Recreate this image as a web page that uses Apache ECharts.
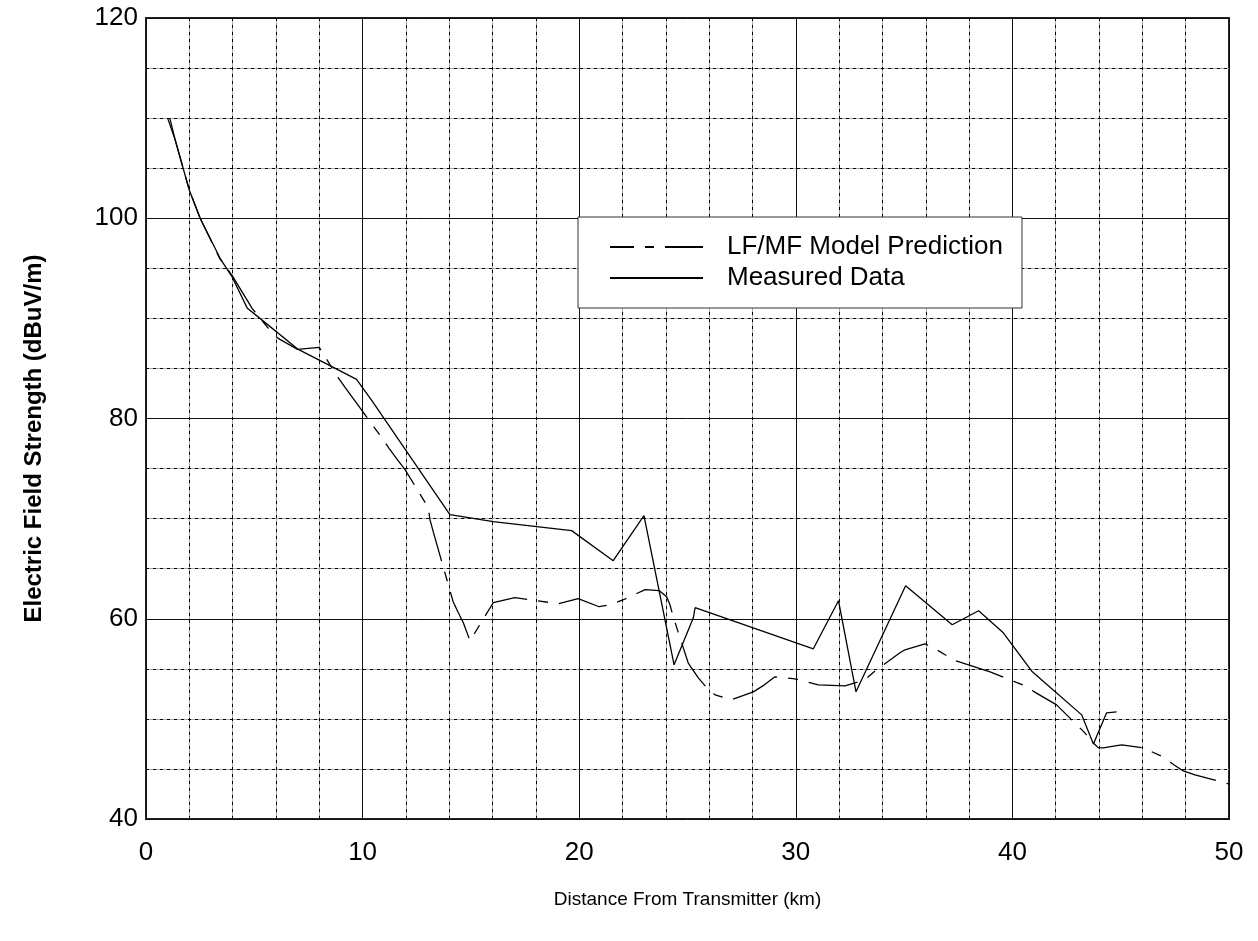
<!DOCTYPE html>
<html>
<head>
<meta charset="utf-8">
<script src="https://cdn.jsdelivr.net/npm/echarts@6/dist/echarts.min.js"></script>
<style>
  html, body { margin: 0; padding: 0; background: #fff; }
  #chart { width: 1258px; height: 941px; }
</style>
</head>
<body>
<div id="chart"></div>
<script>
// LF/MF model prediction (dash-dot)
const predDist = [1.1, 1.35, 2.0, 2.5, 3.4, 4.0, 4.9, 5.2, 5.65, 6.1, 7.0, 8.0, 8.26, 8.83, 9.19,
  10.0, 10.88, 11.23, 11.57, 11.96, 13.03, 13.11, 13.26, 14.18, 14.42, 14.65, 14.96, 16.03,
  17.03, 17.73, 19.04, 19.95, 20.92, 21.42, 22.04, 23.04, 23.7, 24.04, 24.19, 24.34, 25.03,
  25.15, 25.5, 25.85, 26.27, 27.01, 28.04, 28.55, 29.04, 29.47, 29.96, 31.04, 32.27, 32.73,
  33.19, 33.66, 34.81, 35.04, 35.96, 36.43, 36.89, 37.4, 38.97, 39.66, 40.12, 40.58, 41.09,
  42.04, 43.3, 43.74, 43.97, 44.2, 44.74, 45.05, 46.04, 46.96, 47.47, 47.89, 48.43, 50.0];
const predValue = [110.0, 107.8, 102.8, 100.0, 96.0, 94.2, 91.0, 90.2, 89.0, 88.0, 86.9, 87.1, 86.2, 84.2, 83.1,
  80.7, 78.1, 77.0, 76.0, 74.9, 71.1, 69.9, 68.7, 61.7, 60.6, 59.6, 57.8, 61.6,
  62.1, 61.9, 61.5, 62.0, 61.2, 61.4, 61.9, 62.9, 62.8, 62.2, 61.4, 60.2, 55.6,
  55.2, 54.1, 53.2, 52.4, 51.9, 52.7, 53.4, 54.2, 54.1, 54.0, 53.4, 53.3, 53.6,
  53.9, 54.8, 56.6, 56.9, 57.5, 57.0, 56.4, 55.8, 54.7, 54.1, 53.7, 53.3, 52.6,
  51.4, 48.7, 47.6, 47.1, 47.1, 47.3, 47.4, 47.1, 46.2, 45.4, 44.8, 44.4, 43.5];

// Measured data (solid)
const measDist = [1.0, 1.35, 2.0, 2.5, 3.42, 3.96, 4.68, 5.26, 7.03, 8.65, 9.72, 10.42, 14.03,
  16.03, 19.65, 21.57, 22.99, 24.38, 25.27, 25.35, 30.81, 31.97, 32.78, 35.07, 37.22, 38.44,
  39.58, 40.92, 43.2, 43.74, 44.35, 44.81];
const measValue = [110.0, 107.8, 102.8, 100.0, 96.0, 94.2, 91.0, 90.0, 86.9, 85.1, 83.9, 81.8, 70.4,
  69.7, 68.8, 65.8, 70.3, 55.4, 60.1, 61.1, 57.0, 61.8, 52.7, 63.3, 59.4, 60.8,
  58.6, 54.7, 50.4, 47.5, 50.6, 50.7];

const xTitle = 'Distance From Transmitter (km)';
const yTitle = 'Electric Field Strength (dBuV/m)';
const seriesNames = ['LF/MF Model Prediction', 'Measured Data'];

const FONT = 'Arial, "Liberation Sans", Helvetica, sans-serif';
const pairs = (xs, ys) => xs.map((x, i) => [x, ys[i]]);

const chart = echarts.init(document.getElementById('chart'), null, { renderer: 'canvas' });

const option = {
  backgroundColor: '#fff',
  animation: false,
  grid: {
    left: 146, top: 18, right: 29, bottom: 122,
    show: true, borderColor: '#222', borderWidth: 2, backgroundColor: 'transparent'
  },
  legend: {
    orient: 'vertical',
    left: 578, top: 217,
    backgroundColor: '#fff',
    borderColor: '#333', borderWidth: 1,
    padding: [17, 19, 17, 31],
    itemWidth: 93, itemHeight: 14, itemGap: 5,
    itemStyle: { opacity: 0 },
    textStyle: { fontFamily: FONT, fontSize: 26, color: '#000', padding: [0, 0, 0, 19] },
    data: [
      { name: seriesNames[0], lineStyle: { type: [24, 11, 9, 11, 38, 1] } },
      { name: seriesNames[1] }
    ]
  },
  xAxis: [
    {
      type: 'value', min: 0, max: 50, interval: 10, z: 1,
      name: xTitle, nameLocation: 'middle', nameGap: 71,
      nameTextStyle: { fontFamily: FONT, fontSize: 19, color: '#000' },
      axisLine: { show: false },
      axisTick: { show: false },
      axisLabel: { fontFamily: FONT, fontSize: 26, color: '#000', margin: 21 },
      splitLine: { show: true, lineStyle: { color: '#111', width: 1, type: 'solid' } },
      minorTick: { show: false, splitNumber: 5 },
      minorSplitLine: { show: true, lineStyle: { color: '#000', width: 1, type: [3, 4] } }
    },
    {
      type: 'value', min: 0, max: 50, interval: 2, z: 0, position: 'top',
      axisLine: { show: false }, axisTick: { show: false }, axisLabel: { show: false },
      splitLine: { show: true, lineStyle: { color: '#aaa', width: 1 } }
    }
  ],
  yAxis: [
    {
      type: 'value', min: 40, max: 120, interval: 20, z: 1,
      name: yTitle, nameLocation: 'middle', nameGap: 100, nameRotate: 90,
      nameTextStyle: { fontFamily: FONT, fontSize: 24, fontWeight: 'bold', color: '#000', padding: [0, 40, 0, 0] },
      axisLine: { show: false },
      axisTick: { show: false },
      axisLabel: { fontFamily: FONT, fontSize: 26, color: '#000', margin: 8 },
      splitLine: { show: true, lineStyle: { color: '#111', width: 1, type: 'solid' } },
      minorTick: { show: false, splitNumber: 4 },
      minorSplitLine: { show: true, lineStyle: { color: '#000', width: 1, type: [3, 4] } }
    },
    {
      type: 'value', min: 40, max: 120, interval: 5, z: 0, position: 'right',
      axisLine: { show: false }, axisTick: { show: false }, axisLabel: { show: false },
      splitLine: { show: true, lineStyle: { color: '#aaa', width: 1 } }
    }
  ],
  series: [
    {
      name: seriesNames[0], type: 'line', xAxisIndex: 0, yAxisIndex: 0,
      data: pairs(predDist, predValue),
      showSymbol: false, symbol: 'none', z: 3,
      itemStyle: { color: '#000' },
      lineStyle: { color: '#000', width: 1.3, type: [50, 11, 10, 11] }
    },
    {
      name: seriesNames[1], type: 'line', xAxisIndex: 0, yAxisIndex: 0,
      data: pairs(measDist, measValue),
      showSymbol: false, symbol: 'none', z: 3,
      itemStyle: { color: '#000' },
      lineStyle: { color: '#000', width: 1.3, type: 'solid' }
    }
  ]
};

chart.setOption(option, true);
</script>
</body>
</html>
